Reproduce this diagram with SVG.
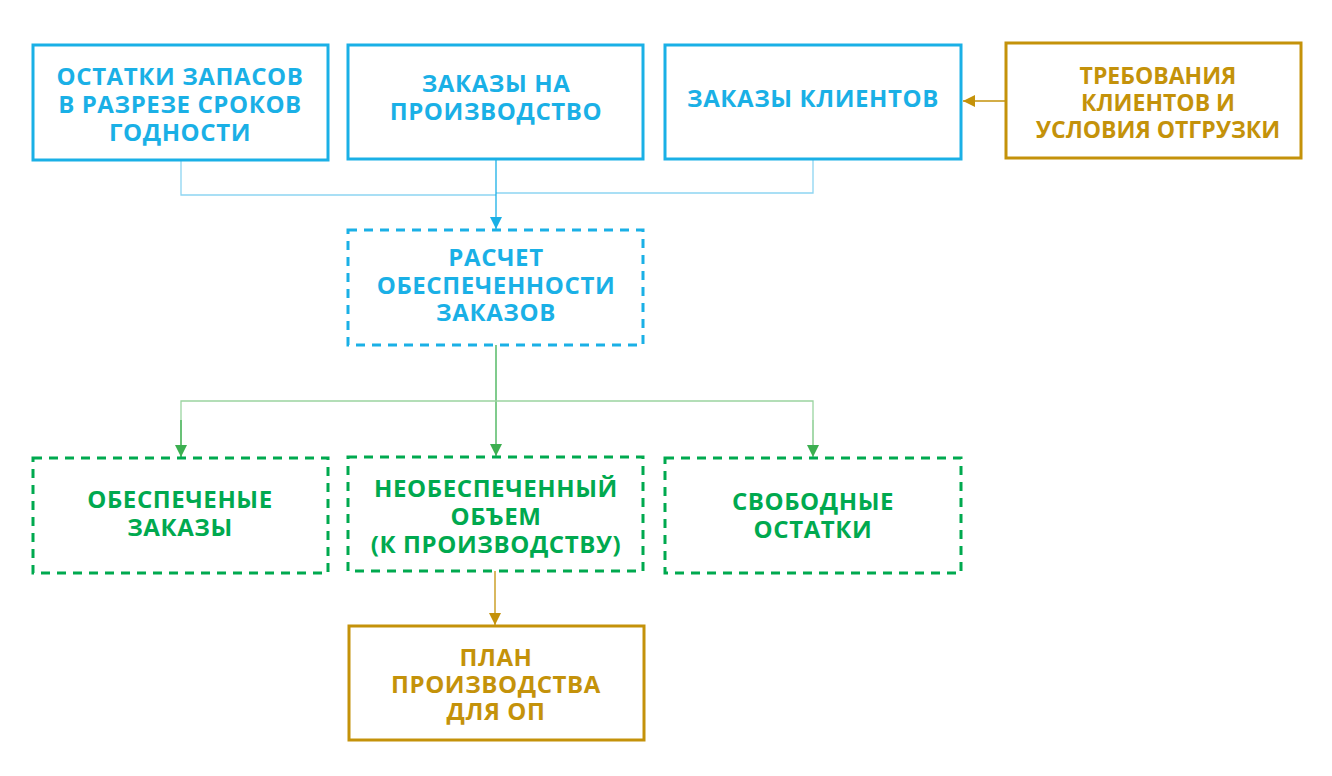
<svg xmlns="http://www.w3.org/2000/svg" width="1332" height="776" viewBox="0 0 1332 776">
<style>
.b{fill:#fff;stroke-width:3}
.bl{stroke:#1AB0E6}.gr{stroke:#00A94F}.go{stroke:#C4920A}
.d{stroke-dasharray:9 7}
text{font-family:"Open Sans","DejaVu Sans",sans-serif;font-weight:bold;font-size:24px;letter-spacing:0.6px;text-anchor:middle}
.tb{fill:#1AB0E6}.tg{fill:#00A94F}.to{fill:#C4920A}
#n4 text{letter-spacing:0;font-size:23px}
.c{fill:none;stroke-width:1.3}
</style>
<defs>
<marker id="ab" markerWidth="12" markerHeight="12" refX="6" refY="12" markerUnits="userSpaceOnUse"><path d="M0,0 L12,0 L6,12z" fill="#1AB0E6"/></marker>
<marker id="ag" markerWidth="12" markerHeight="12" refX="6" refY="12" markerUnits="userSpaceOnUse"><path d="M0,0 L12,0 L6,12z" fill="#3CAF50"/></marker>
<marker id="ao" markerWidth="12" markerHeight="12" refX="6" refY="12" markerUnits="userSpaceOnUse"><path d="M0,0 L12,0 L6,12z" fill="#C4920A"/></marker>
<marker id="al" markerWidth="12" markerHeight="12" refX="0" refY="6" markerUnits="userSpaceOnUse"><path d="M12,0 L12,12 L0,6z" fill="#C4920A"/></marker>
</defs>
<g id="connectors">
<path class="c" stroke="#8DD5F2" d="M181,160 V195 H496"/>
<path class="c" stroke="#8DD5F2" d="M813,159 V193 H496"/>
<path class="c" stroke="#1AB0E6" d="M496,159 V229" marker-end="url(#ab)"/>
<path class="c" stroke="#3CAF50" d="M496,345 V456" marker-end="url(#ag)"/>
<path class="c" stroke="#9AD4A0" d="M181,457 V401 H813 V457"/>
<path class="c" stroke="#3CAF50" d="M181,420 V457" marker-end="url(#ag)"/>
<path class="c" stroke="#9AD4A0" d="M813,420 V457" marker-end="url(#ag)"/>
<path class="c" stroke="#C4920A" d="M495,571 V625" marker-end="url(#ao)"/>
<path class="c" stroke="#C4920A" d="M1006,101 L963,101" marker-end="url(#al)"/>
</g>
<g id="n1"><rect class="b bl" x="33" y="45" width="295" height="115"/><text class="tb" x="180" y="85">ОСТАТКИ ЗАПАСОВ</text><text class="tb" x="180" y="113">В РАЗРЕЗЕ СРОКОВ</text><text class="tb" x="180" y="141">ГОДНОСТИ</text></g>
<g id="n2"><rect class="b bl" x="348" y="45" width="295" height="114"/><text class="tb" x="496" y="92">ЗАКАЗЫ НА</text><text class="tb" x="496" y="120">ПРОИЗВОДСТВО</text></g>
<g id="n3"><rect class="b bl" x="665" y="45" width="296" height="114"/><text class="tb" x="813" y="107">ЗАКАЗЫ КЛИЕНТОВ</text></g>
<g id="n4"><rect class="b go" x="1006" y="43" width="295" height="115"/><text class="to" x="1158" y="84">ТРЕБОВАНИЯ</text><text class="to" x="1158" y="111">КЛИЕНТОВ И</text><text class="to" x="1158" y="138">УСЛОВИЯ ОТГРУЗКИ</text></g>
<g id="n5"><rect class="b bl d" x="348" y="230" width="295" height="115"/><text class="tb" x="496" y="266">РАСЧЕТ</text><text class="tb" x="496" y="294">ОБЕСПЕЧЕННОСТИ</text><text class="tb" x="496" y="321">ЗАКАЗОВ</text></g>
<g id="n6"><rect class="b gr d" x="33" y="458" width="295" height="115"/><text class="tg" x="180" y="508">ОБЕСПЕЧЕНЫЕ</text><text class="tg" x="180" y="536">ЗАКАЗЫ</text></g>
<g id="n7"><rect class="b gr d" x="348" y="457" width="295" height="114"/><text class="tg" x="496" y="497">НЕОБЕСПЕЧЕННЫЙ</text><text class="tg" x="496" y="525">ОБЪЕМ</text><text class="tg" x="496" y="553">(К ПРОИЗВОДСТВУ)</text></g>
<g id="n8"><rect class="b gr d" x="665" y="458" width="296" height="115"/><text class="tg" x="813" y="510">СВОБОДНЫЕ</text><text class="tg" x="813" y="538">ОСТАТКИ</text></g>
<g id="n9"><rect class="b go" x="349" y="626" width="295" height="114"/><text class="to" x="496" y="666">ПЛАН</text><text class="to" x="496" y="693">ПРОИЗВОДСТВА</text><text class="to" x="496" y="720">ДЛЯ ОП</text></g>
</svg>
